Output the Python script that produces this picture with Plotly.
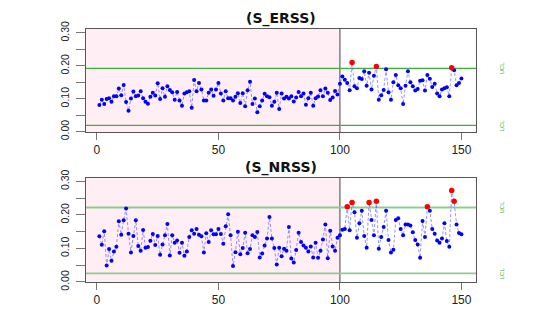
import plotly.graph_objects as go

# ---------------- data ----------------
x_index = list(range(1, 151))

s_erss = [
    0.081, 0.097, 0.084, 0.099, 0.102, 0.091, 0.108, 0.108, 0.131, 0.111,
    0.142, 0.090, 0.064, 0.101, 0.122, 0.108, 0.110, 0.123, 0.102, 0.091,
    0.085, 0.106, 0.118, 0.110, 0.147, 0.099, 0.132, 0.106, 0.138, 0.127,
    0.120, 0.097, 0.121, 0.095, 0.079, 0.116, 0.120, 0.123, 0.073, 0.157,
    0.123, 0.148,
    0.128, 0.095, 0.095, 0.118, 0.128, 0.109, 0.128, 0.148, 0.116, 0.095,
    0.123, 0.102, 0.102, 0.095, 0.106, 0.117, 0.087, 0.117, 0.077, 0.126,
    0.152, 0.084, 0.101, 0.059, 0.077, 0.095, 0.115, 0.108, 0.105, 0.079,
    0.091, 0.118, 0.069, 0.116, 0.101, 0.106, 0.101, 0.108, 0.092, 0.104,
    0.121, 0.108, 0.116, 0.082, 0.102, 0.118, 0.079, 0.102, 0.107, 0.126,
    0.108, 0.131, 0.118, 0.096, 0.104, 0.124, 0.113, 0.146,
    0.168, 0.158, 0.148, 0.126, 0.210, 0.138, 0.132, 0.163, 0.160, 0.184,
    0.140, 0.179, 0.128, 0.170, 0.198, 0.097, 0.111, 0.127, 0.190, 0.120,
    0.097, 0.150, 0.172, 0.141, 0.132, 0.084, 0.140, 0.184, 0.150, 0.138,
    0.125, 0.130, 0.155, 0.156, 0.125, 0.172, 0.161, 0.136, 0.146, 0.116,
    0.108, 0.128, 0.132, 0.135, 0.108, 0.194, 0.187, 0.141, 0.148, 0.162,
]

s_nrss = [
    0.136, 0.111, 0.151, 0.049, 0.098, 0.063, 0.091, 0.105, 0.181, 0.141,
    0.184, 0.219, 0.144, 0.088, 0.137, 0.184, 0.107, 0.093, 0.155, 0.102,
    0.104, 0.123, 0.143, 0.110, 0.137, 0.081, 0.112, 0.139, 0.173, 0.079,
    0.139, 0.117, 0.124, 0.087, 0.117, 0.078, 0.091, 0.134, 0.154, 0.144,
    0.158, 0.141, 0.136, 0.088, 0.145, 0.119, 0.154, 0.142, 0.142, 0.158,
    0.143, 0.114, 0.166, 0.202, 0.139, 0.048, 0.089, 0.150, 0.083, 0.101,
    0.147, 0.086, 0.098, 0.139, 0.134, 0.149, 0.073, 0.085, 0.109, 0.130,
    0.194, 0.130, 0.101, 0.052, 0.102, 0.077, 0.099, 0.093, 0.164, 0.070,
    0.058, 0.095, 0.147, 0.119, 0.109, 0.102, 0.091, 0.106, 0.073, 0.117,
    0.072, 0.093, 0.127, 0.171, 0.071, 0.153, 0.106, 0.093, 0.132, 0.139,
    0.156, 0.158, 0.224, 0.154, 0.237, 0.208, 0.132, 0.175, 0.212, 0.137,
    0.102, 0.237, 0.185, 0.139, 0.241, 0.099, 0.134, 0.164, 0.212, 0.125,
    0.088, 0.096, 0.185, 0.190, 0.158, 0.139, 0.171, 0.171, 0.168, 0.148,
    0.125, 0.112, 0.072, 0.182, 0.134, 0.224, 0.212, 0.158, 0.144, 0.124,
    0.117, 0.130, 0.175, 0.122, 0.105, 0.273, 0.241, 0.171, 0.146, 0.142,
]

erss_limits = [0.1925, 0.0195]   # UCL, LCL
nrss_limits = [0.222, 0.026]
phase_split = 100
x_ticks = [0, 50, 100, 150]
y_ticks = [0.0, 0.05, 0.10, 0.15, 0.20, 0.25, 0.30]
y_ticktext = ["0.00", "", "0.10", "", "0.20", "", "0.30"]
titles = ["(S_ERSS)", "(S_NRSS)"]
limit_labels = ["UCL", "LCL"]

# ---------------- figure ----------------
fig = go.Figure()

panels = [
    (s_erss, erss_limits, "x", "y", "#3DAF3D", 1.2),
    (s_nrss, nrss_limits, "x2", "y2", "#8FCB8F", 1.8),
]

for vals, lims, xa, ya, gcol, gwid in panels:
    ucl = lims[0]
    fig.add_trace(go.Scatter(
        x=x_index, y=vals, mode="lines", xaxis=xa, yaxis=ya,
        line=dict(color="rgba(60,60,255,0.55)", width=1, dash="3px,2px"),
        showlegend=False, hoverinfo="skip"))
    bx = [x for x, v in zip(x_index, vals) if v <= ucl]
    by = [v for v in vals if v <= ucl]
    rx = [x for x, v in zip(x_index, vals) if v > ucl]
    ry = [v for v in vals if v > ucl]
    fig.add_trace(go.Scatter(
        x=bx, y=by, mode="markers", xaxis=xa, yaxis=ya,
        marker=dict(color="#0000FF", size=4, line=dict(width=0)),
        showlegend=False))
    fig.add_trace(go.Scatter(
        x=rx, y=ry, mode="markers", xaxis=xa, yaxis=ya,
        marker=dict(color="#FF0000", size=5.5, line=dict(width=0)),
        showlegend=False))

    yref_dom = ya + " domain"
    fig.add_shape(type="rect", xref=xa, yref=yref_dom,
                  x0=-4.5, x1=phase_split, y0=0, y1=1,
                  fillcolor="#FFEEF3", line=dict(width=0), layer="below")
    fig.add_shape(type="line", xref=xa, yref=yref_dom,
                  x0=phase_split, x1=phase_split, y0=0, y1=1,
                  line=dict(color="#444444", width=1), layer="below")
    for lv in lims:
        fig.add_shape(type="line", xref=xa + " domain", yref=ya,
                      x0=0, x1=1, y0=lv, y1=lv,
                      line=dict(color=gcol, width=gwid), layer="below")
    for lv, lab in zip(lims, limit_labels):
        fig.add_annotation(xref=xa + " domain", yref=ya, x=1.0795, y=lv,
                           text=lab, showarrow=False, textangle=-90,
                           font=dict(size=6, color="#3DAF3D",
                                     family="Liberation Sans"))

axis_common = dict(showline=True, mirror=True, linecolor="#555555", linewidth=1,
                   showgrid=False, zeroline=False, ticks="outside",
                   tickcolor="#777777", tickwidth=1)

# the page body adds an 8px offset, so the figure is 8px smaller than the window
fig.update_layout(
    width=535, height=311,
    margin=dict(l=78, r=67, t=20, b=32),
    plot_bgcolor="white", paper_bgcolor="white",
    font=dict(family="Liberation Sans", color="#222222"),
    xaxis=dict(domain=[0, 1], anchor="y", range=[-4.5, 156],
               tickvals=x_ticks, ticklen=7, tickfont=dict(size=12),
               **axis_common),
    yaxis=dict(domain=[0.5927, 1], anchor="x", range=[-0.001, 0.312],
               tickvals=y_ticks, ticktext=y_ticktext, tickangle=-90,
               ticklen=9, ticklabelstandoff=3, tickfont=dict(size=10.5),
               **axis_common),
    xaxis2=dict(domain=[0, 1], anchor="y2", range=[-4.5, 156],
                tickvals=x_ticks, ticklen=7, tickfont=dict(size=12),
                **axis_common),
    yaxis2=dict(domain=[0, 0.4112], anchor="x2", range=[0, 0.31],
                tickvals=y_ticks, ticktext=y_ticktext, tickangle=-90,
                ticklen=9, ticklabelstandoff=3, tickfont=dict(size=10.5),
                **axis_common),
)

fig.add_annotation(xref="paper", yref="paper", x=0.5, y=1.0425, yanchor="middle",
                   text="<b>" + titles[0] + "</b>", showarrow=False,
                   font=dict(size=14, family="DejaVu Sans", color="#111111"))
fig.add_annotation(xref="paper", yref="paper", x=0.5, y=0.4517, yanchor="middle",
                   text="<b>" + titles[1] + "</b>", showarrow=False,
                   font=dict(size=14, family="DejaVu Sans", color="#111111"))

fig.write_html("out.html")
